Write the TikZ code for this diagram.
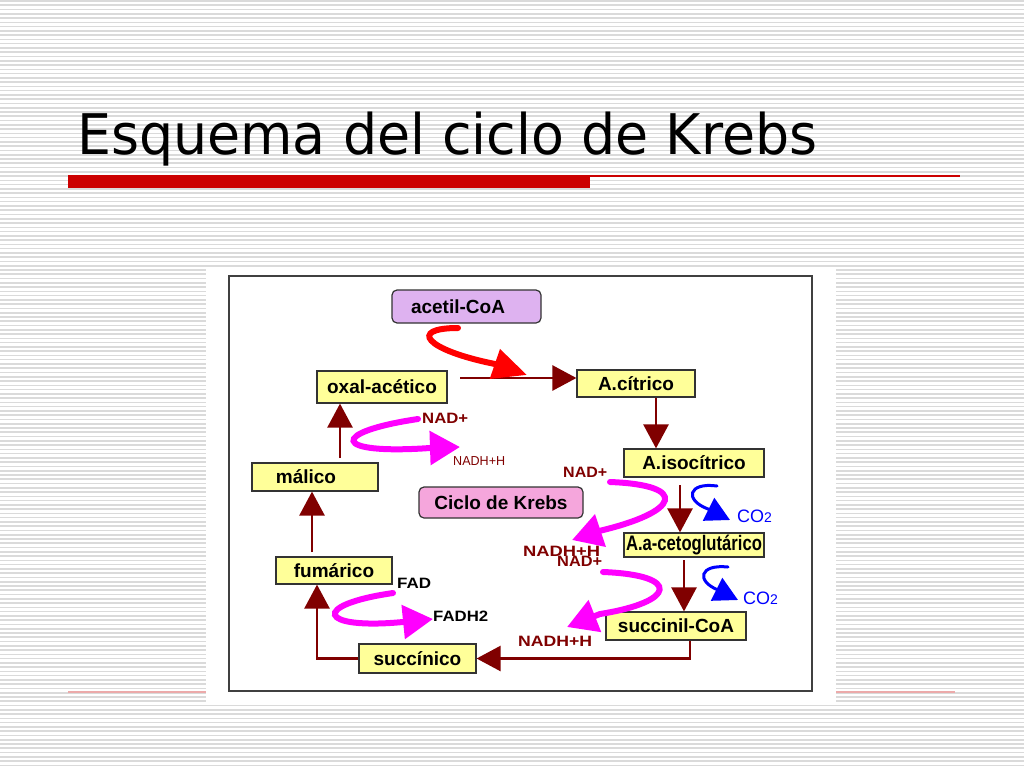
\documentclass[tikz,border=0pt]{standalone}
\usepackage{fontspec}
\setmainfont{Liberation Sans}
\newfontfamily\titlefont{DejaVu Sans}
\usetikzlibrary{arrows.meta}
\definecolor{dred}{RGB}{128,0,0}
\definecolor{boxyel}{RGB}{255,255,153}
\definecolor{lav}{RGB}{222,178,240}
\definecolor{pinkb}{RGB}{245,166,220}
\definecolor{mag}{RGB}{255,0,255}
\definecolor{barred}{RGB}{204,0,0}
\definecolor{paleline}{RGB}{236,170,170}
\definecolor{co2blue}{RGB}{0,0,255}
\definecolor{stripe}{RGB}{218,218,218}
\newcommand\fitw[2]{\resizebox{#1}{\height}{#2}}
\begin{document}
\begin{tikzpicture}[x=1pt,y=-1pt,
  box/.style={draw=black!80, line width=1.2pt, fill=boxyel, inner sep=0pt,
    font=\fontsize{19}{22}\selectfont\bfseries},
  rbox/.style={box, rounded corners=5pt},
  conn/.style={draw=dred, line width=2.6pt, -{Triangle[length=24pt,width=25pt]}},
  magarrow/.style={draw=mag, line width=6pt, line cap=round, -{Triangle[length=30pt,width=33pt]}},
  redarrow/.style={draw=red, line width=6pt, line cap=round, -{Triangle[length=34pt,width=30pt]}},
  bluearrow/.style={draw=co2blue, line width=3pt, line cap=round, -{Triangle[length=24pt,width=25pt]}},
  lab/.style={inner sep=0pt, anchor=west, text=dred, font=\fontsize{15}{18}\selectfont\bfseries},
  co2lab/.style={inner sep=0pt, anchor=west, text=co2blue, font=\fontsize{18}{20}\selectfont}
]
\useasboundingbox (0,0) rectangle (1024,768);
% striped background
\foreach \i in {0,...,180} \draw[stripe, line width=1.6pt] (0,{\i*4.27+1}) -- (1024,{\i*4.27+1});
% title rules
\draw[paleline, line width=1.2pt] (68,692) -- (955,692);
\fill[barred] (68,175) rectangle (590,188);
\draw[barred, line width=1.2pt] (590,176) -- (960,176);
\node[anchor=base west, inner sep=0pt] (title) at (77,154)
  {\titlefont\fontsize{56}{60}\selectfont\fitw{740pt}{Esquema del ciclo de Krebs}};
% panel
\fill[white] (206,267) rectangle (836,703);
\draw[black!75, line width=1.5pt] (229,276) rectangle (812,691);

% nodes
\node[rbox, fill=lav, minimum width=149pt, minimum height=33pt] (acetil) at (466.5,306.5) {acetil-CoA\hspace*{17pt}};
\node[box, minimum width=130pt, minimum height=32pt] (oxal) at (382,387) {oxal-acético};
\node[box, minimum width=118pt, minimum height=27pt] (citrico) at (636,383.5) {A.cítrico};
\node[box, minimum width=140pt, minimum height=28pt] (isocitrico) at (694,463) {A.isocítrico};
\node[box, minimum width=126pt, minimum height=28pt] (malico) at (315,477) {málico\hspace*{18pt}};
\node[rbox, fill=pinkb, minimum width=164pt, minimum height=31pt] (ciclo) at (501,502.5) {Ciclo de Krebs};
\node[box, minimum width=140pt, minimum height=24pt, font=\fontsize{21}{24}\selectfont\bfseries] (cetoglut) at (694,545) {\fitw{136pt}{A.a-cetoglutárico}};
\node[box, minimum width=116pt, minimum height=27pt] (fumarico) at (334,570.5) {fumárico};
\node[box, minimum width=140pt, minimum height=28pt] (succinil) at (676,626) {succinil-CoA};
\node[box, minimum width=117pt, minimum height=29pt] (succinico) at (417.5,658.5) {succínico};

% helper coordinates
\coordinate (c1) at (460,378);
\coordinate (c2) at (656,0);
\coordinate (c3) at (680,485);
\coordinate (c4) at (684,560);
\coordinate (c5) at (690,0);
\coordinate (c6) at (317,0);
\coordinate (c7) at (312,552);
\coordinate (c8) at (340,458);

% cycle connectors
\draw[conn] (c1) -- (c1 -| citrico.west);
\draw[conn] (citrico.south -| c2) -- (isocitrico.north -| c2);
\draw[conn] (c3) -- (c3 |- cetoglut.north);
\draw[conn] (c4) -- (c4 |- succinil.north);
\draw[conn] (succinil.south -| c5) |- (succinico.east);
\draw[conn] (succinico.west) -| (fumarico.south -| c6);
\draw[conn] (c7) -- (c7 |- malico.south);
\draw[conn] (c8) -- (c8 |- oxal.south);

% acetil-CoA arrow
\coordinate (r0) at (458,328);
\coordinate (r1) at (527,375);
\draw[redarrow] (r0) .. controls (408,328) and (425,350) .. (495,364) -- (r1);

% magenta arrows
\coordinate (m1a) at (418,419);
\coordinate (m1b) at (460,447);
\draw[magarrow] (m1a) .. controls (330,432) and (330,455) .. (430,448) -- (m1b);
\coordinate (m2a) at (610,482);
\coordinate (m2b) at (572,540);
\draw[magarrow] (m2a) .. controls (690,485) and (680,512) .. (599,531) -- (m2b);
\coordinate (m3a) at (603,572);
\coordinate (m3b) at (567,627);
\draw[magarrow] (m3a) .. controls (682,575) and (676,602) .. (600,614) -- (m3b);
\coordinate (m4a) at (393,593);
\coordinate (m4b) at (433,619);
\draw[magarrow] (m4a) .. controls (310,605) and (318,630) .. (403,622) -- (m4b);

% blue CO2 arrows
\coordinate (b1a) at (717,486);
\coordinate (b1b) at (730,520);
\draw[bluearrow] (b1a) .. controls (688,482) and (684,500) .. (708,509) -- (b1b);
\coordinate (b2a) at (728,567);
\coordinate (b2b) at (738,600);
\draw[bluearrow] (b2a) .. controls (699,564) and (696,581) .. (718,590) -- (b2b);

% labels
\node[lab] (nad1) at (422,418) {\fitw{46pt}{NAD+}};
\node[lab, font=\fontsize{13}{15}\selectfont] (nadh1) at (453,461) {\fitw{52pt}{NADH+H}};
\node[lab] (nad2) at (563,472) {\fitw{44pt}{NAD+}};
\node[lab] (nadh2) at (523,551) {\fitw{77pt}{NADH+H}};
\node[lab] (nad3) at (557,561) {\fitw{45pt}{NAD+}};
\node[lab] (nadh3) at (518,641) {\fitw{74pt}{NADH+H}};
\node[lab, text=black] (fad) at (397,583) {\fitw{34pt}{FAD}};
\node[lab, text=black] (fadh) at (433,616) {\fitw{55pt}{FADH2}};
\node[co2lab] (co2a) at (737,516) {CO{\fontsize{14}{16}\selectfont 2}};
\node[co2lab] (co2b) at (743,598) {CO{\fontsize{14}{16}\selectfont 2}};
\end{tikzpicture}
\end{document}
